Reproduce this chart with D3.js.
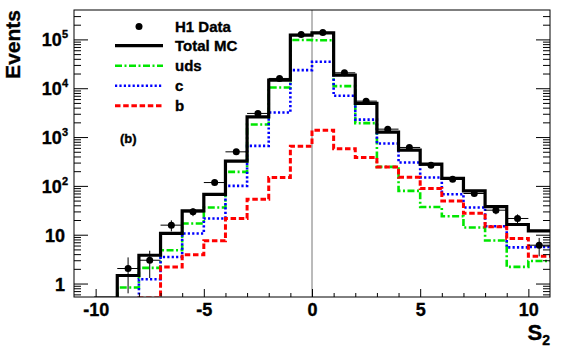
<!DOCTYPE html>
<html>
<head>
<meta charset="utf-8">
<script src="https://cdn.jsdelivr.net/npm/d3@7"></script>
<style>
  body { margin: 0; background: #fff; }
  svg { display: block; }
  svg text { font-family: "Liberation Sans", Arial, Helvetica, sans-serif; font-weight: bold; fill: #000; stroke: #000; stroke-width: 0.35px; }
</style>
</head>
<body>
<svg id="canvas"></svg>
<script>
// bins of width 1, lower edges
const binLow = [-10, -9, -8, -7, -6, -5, -4, -3, -2, -1, 0, 1, 2, 3, 4, 5, 6, 7, 8, 9, 10];
// null = not drawn, 0 = drawn along the bottom of the frame
const totalMC = [0, 1.46, 3.8, 10.6, 30.7, 66.7, 321, 2594, 14660, 122500, 136500, 18540, 4880, 1260, 539, 278, 142, 79, 37.5, 16.2, 12.0];
const uds     = [null, 0.83, 2.09, 4.8, 17, 36.1, 194, 1812, 10380, 97000, 96000, 11040, 1930, 245, 79, 37, 23.9, 14.0, 7.6, 2.19, 2.9];
const charm   = [null, null, 1.22, 3.5, 10.6, 21.5, 100, 660, 3190, 23500, 34750, 6990, 2275, 739, 302, 149, 67.6, 36, 14.9, 5.5, 5.6];
const beauty  = [null, null, 0, 2.19, 3.9, 7.5, 21.5, 53.4, 148, 651, 1385, 575, 382, 245, 150, 88, 49.3, 27.6, 14.5, 8.4, 3.6];

const dataX   = [-8.5, -7.5, -6.5, -5.5, -4.5, -3.5, -2.5, -1.5, -0.5, 0.5, 1.5, 2.5, 3.5, 4.5, 5.5, 6.5, 7.5, 8.5, 9.5, 10.5];
const dataY   = [2.03, 3.0, 15.7, 29.4, 117, 498, 3047, 15850, 126500, 139000, 20700, 5440, 1452, 612, 266, 137, 69.8, 31.8, 21.5, 6.1];
const dataErr = [1.4, 1.7, 4.0, 5.4, 11, 22, 55, 126, 356, 373, 144, 74, 38, 25, 16, 12, 8.4, 5.6, 4.6, 2.5];

const xTicks = [-10, -5, 0, 5, 10];
const yTicks = [1, 10, 100, 1000, 10000, 100000];
const yLabels = [["1"], ["10"], ["10", "2"], ["10", "3"], ["10", "4"], ["10", "5"]];

const series = [
  { name: "uds", values: uds, color: "#00e600", width: 2.6, dash: "7,2.5,2,2.5" },
  { name: "c", values: charm, color: "#0000ff", width: 2.6, dash: "2.2,2.2" },
  { name: "b", values: beauty, color: "#ff0000", width: 3, dash: "5.5,2.7" },
];

const width = 567, height = 354;
const margin = { top: 10, right: 17, bottom: 57, left: 74 };
const innerWidth = width - margin.left - margin.right;
const innerHeight = height - margin.top - margin.bottom;

const svg = d3.select("#canvas").attr("width", width).attr("height", height);

const xScale = d3.scaleLinear().domain([-11, 11]).range([0, innerWidth]);
const yScale = d3.scaleLog().domain([0.53, 4e5]).range([innerHeight, 0]);

const plot = svg.append("g").attr("transform", `translate(${margin.left}, ${margin.top})`);

plot.append("clipPath").attr("id", "clip")
  .append("rect").attr("width", innerWidth).attr("height", innerHeight);

// line at x = 0
plot.append("line")
  .attr("x1", xScale(0)).attr("x2", xScale(0))
  .attr("y1", 0).attr("y2", innerHeight)
  .attr("stroke", "#777").attr("stroke-width", 1);

function yOf(v) { return v > 0 ? yScale(v) : innerHeight + 1; }

function stepPath(values) {
  const first = values.findIndex(v => v !== null);
  const pts = [[xScale(binLow[first]), innerHeight + 2]];
  values.forEach((v, i) => {
    if (v === null) return;
    pts.push([xScale(binLow[i]), yOf(v)]);
    pts.push([xScale(binLow[i] + 1), yOf(v)]);
  });
  return d3.line()(pts);
}

const hists = plot.append("g").attr("clip-path", "url(#clip)");

series.forEach(s => {
  hists.append("path")
    .attr("d", stepPath(s.values))
    .attr("fill", "none")
    .attr("stroke", s.color)
    .attr("stroke-width", s.width)
    .attr("stroke-dasharray", s.dash);
});

hists.append("path")
  .attr("d", stepPath(totalMC))
  .attr("fill", "none")
  .attr("stroke", "#000")
  .attr("stroke-width", 3.2);

// data points with error bars
const pts = hists.selectAll("g.pt").data(dataX.map((x, i) => ({ x, y: dataY[i], e: dataErr[i] })))
  .join("g").attr("class", "pt");
pts.append("line")
  .attr("x1", d => xScale(d.x - 0.5)).attr("x2", d => xScale(d.x + 0.5))
  .attr("y1", d => yScale(d.y)).attr("y2", d => yScale(d.y))
  .attr("stroke", "#000").attr("stroke-width", 1);
pts.append("line")
  .attr("x1", d => xScale(d.x)).attr("x2", d => xScale(d.x))
  .attr("y1", d => yScale(d.y + d.e)).attr("y2", d => d.y - d.e > 0 ? yScale(d.y - d.e) : innerHeight + 2)
  .attr("stroke", "#000").attr("stroke-width", 1);
pts.append("circle")
  .attr("cx", d => xScale(d.x)).attr("cy", d => yScale(d.y))
  .attr("r", 3.5).attr("fill", "#000");

// axes
const yMinor = [];
for (let e = -1; e <= 5; e++) {
  for (let m = 2; m <= 9; m++) {
    const v = m * Math.pow(10, e);
    if (v > 0.53 && v < 4e5) yMinor.push(v);
  }
}
const xMinor = d3.range(-10, 11).filter(v => v % 5 !== 0);

function tickAxis(axis) {
  return g => g.call(axis).call(g => g.select(".domain").remove()).call(g => g.selectAll("text").remove());
}

plot.append("g").call(tickAxis(d3.axisRight(yScale).tickValues(yTicks).tickSize(14)));
plot.append("g").call(tickAxis(d3.axisRight(yScale).tickValues(yMinor).tickSize(7)));
plot.append("g").attr("transform", `translate(${innerWidth}, 0)`)
  .call(tickAxis(d3.axisLeft(yScale).tickValues(yTicks).tickSize(14)));
plot.append("g").attr("transform", `translate(${innerWidth}, 0)`)
  .call(tickAxis(d3.axisLeft(yScale).tickValues(yMinor).tickSize(7)));
plot.append("g").attr("transform", `translate(0, ${innerHeight})`)
  .call(tickAxis(d3.axisTop(xScale).tickValues(xTicks).tickSize(8)));
plot.append("g").attr("transform", `translate(0, ${innerHeight})`)
  .call(tickAxis(d3.axisTop(xScale).tickValues(xMinor).tickSize(4)));

plot.selectAll(".tick line").attr("stroke", "#000").attr("stroke-width", 1);

// x labels
plot.append("g").attr("transform", `translate(0, ${innerHeight})`)
  .call(d3.axisBottom(xScale).tickValues(xTicks).tickSize(0).tickPadding(6).tickFormat(d => String(d)))
  .call(g => g.select(".domain").remove())
  .call(g => g.selectAll("text")
    .attr("font-family", null)
    .attr("fill", "#000")
    .style("font-size", "18px")
    .style("font-weight", "bold"));

// y labels
const yLab = plot.append("g");
yTicks.forEach((t, i) => {
  const lab = yLabels[i];
  const txt = yLab.append("text")
    .attr("x", lab.length > 1 ? -6 : -9)
    .attr("y", yScale(t) + 7)
    .attr("text-anchor", "end")
    .style("font-size", "18px");
  txt.append("tspan").text(lab[0]);
  if (lab.length > 1) {
    txt.append("tspan").attr("dy", -8).style("font-size", "11px").text(lab[1]);
  }
});

// frame
plot.append("rect")
  .attr("width", innerWidth).attr("height", innerHeight)
  .attr("fill", "none").attr("stroke", "#000").attr("stroke-width", 1);

// axis titles
svg.append("text")
  .attr("transform", `translate(20, ${margin.top}) rotate(-90)`)
  .attr("text-anchor", "end")
  .style("font-size", "21px")
  .text("Events");

const xt = svg.append("text")
  .attr("x", margin.left + innerWidth)
  .attr("y", 340)
  .attr("text-anchor", "end")
  .style("font-size", "22px");
xt.append("tspan").text("S");
xt.append("tspan").attr("dy", 5).style("font-size", "14px").text("2");

// legend
const legend = svg.append("g");
const legX1 = 115, legX2 = 163, legText = 175;
legend.append("circle").attr("cx", (legX1 + legX2) / 2).attr("cy", 26.5).attr("r", 3.5).attr("fill", "#000");
const legRows = [
  { label: "H1 Data", y: 26.5 },
  { label: "Total MC", y: 45.7, color: "#000", width: 3.2, dash: null },
  ...series.map((s, i) => ({ label: s.name, y: 65.7 + 20 * i, color: s.color, width: s.width, dash: s.dash })),
];
legRows.forEach(r => {
  if (r.color) {
    legend.append("line")
      .attr("x1", legX1).attr("x2", legX2)
      .attr("y1", r.y).attr("y2", r.y)
      .attr("stroke", r.color).attr("stroke-width", r.width)
      .attr("stroke-dasharray", r.dash);
  }
  legend.append("text")
    .attr("x", legText).attr("y", r.y + 5.5)
    .style("font-size", "15px")
    .text(r.label);
});

svg.append("text")
  .attr("x", 120).attr("y", 143)
  .style("font-size", "13px")
  .text("(b)");
</script>
</body>
</html>
